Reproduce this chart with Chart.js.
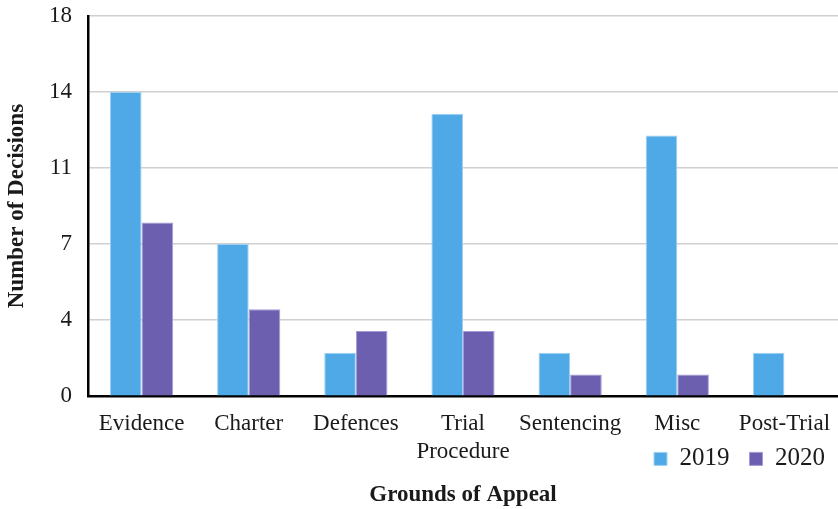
<!DOCTYPE html>
<html>
<head>
<meta charset="utf-8">
<script src="https://cdn.jsdelivr.net/npm/chart.js@4"></script>
<style>
  html, body { margin: 0; padding: 0; background: #fff; }
  #wrap { width: 838px; height: 509px; }
</style>
</head>
<body>
<div id="wrap"><canvas id="grafico"></canvas></div>
<script>
const motivos = ['Evidence', 'Charter', 'Defences', ['Trial', 'Procedure'], 'Sentencing', 'Misc', 'Post-Trial'];
const decisoes2019 = [14, 7, 2, 13, 2, 12, 2];
const decisoes2020 = [8, 4, 3, 3, 1, 1, 0];
const rotulosEixoY = ['0', '4', '7', '11', '14', '18'];

const fonte = 'Liberation Serif, Times New Roman, serif';
const corTexto = '#1a1a1a';
const recorteX = 45; // quanto a legenda sobe por cima da segunda linha dos rótulos

// ajustes finos depois do layout
const ajustesLayout = {
    id: 'ajustesLayout',
    afterLayout(chart) {
        // rótulos do eixo x podem desenhar abaixo da altura reduzida da escala
        chart.scales.x.bottom += recorteX;
        // título do eixo x centrado na área do gráfico
        chart.titleBlock.left = chart.chartArea.left;
        // legenda um pouco mais à direita
        chart.legend.right += 7;
    }
};

new Chart(document.getElementById('grafico'), {
    type: 'bar',
    data: {
        labels: motivos,
        datasets: [{
            label: '2019',
            data: decisoes2019,
            backgroundColor: '#4EA9E6',
            borderColor: '#9fd0f2',
            borderWidth: 1
        },
        {
            label: '2020',
            data: decisoes2020,
            backgroundColor: '#6C5FB0',
            borderColor: '#a49bd6',
            borderWidth: 1
        }]
    },
    options: {
        responsive: true,
        maintainAspectRatio: false,
        animation: false,
        layout: { padding: { top: 16, right: 0, bottom: 0, left: 0 } },
        datasets: {
            bar: { categoryPercentage: 0.59, barPercentage: 1.0 }
        },
        scales: {
            x: {
                grid: { display: false },
                border: { display: true, color: '#000', width: 2.5 },
                ticks: {
                    color: corTexto,
                    font: { family: fonte, size: 23 },
                    padding: 6,
                    maxRotation: 0,
                    autoSkip: false
                },
                afterFit: s => {
                    s.height -= recorteX;
                    s.paddingLeft = 0;
                    s.paddingRight = 0;
                }
            },
            y: {
                min: 0,
                max: 17.5,
                grid: { color: '#d0d0d0', lineWidth: 1.5, drawTicks: false },
                border: { display: true, color: '#000', width: 2.5 },
                ticks: {
                    stepSize: 3.5,
                    color: corTexto,
                    font: { family: fonte, size: 23 },
                    padding: 16,
                    callback: (v, i) => rotulosEixoY[i]
                },
                title: {
                    display: true,
                    text: 'Number of Decisions',
                    color: corTexto,
                    font: { family: fonte, size: 23, weight: 'bold' },
                    padding: { top: 3, bottom: 4 }
                },
                afterFit: s => {
                    s.width = 88;
                    s.paddingTop = 0;
                    s.paddingBottom = 0;
                }
            }
        },
        plugins: {
            legend: {
                position: 'bottom',
                align: 'end',
                labels: {
                    color: corTexto,
                    font: { family: fonte, size: 25 },
                    boxWidth: 13,
                    boxHeight: 13,
                    padding: 20
                }
            },
            title: {
                display: true,
                position: 'bottom',
                text: 'Grounds of Appeal',
                color: corTexto,
                font: { family: fonte, size: 23, weight: 'bold' },
                padding: { top: 0, bottom: 0 }
            },
            tooltip: { enabled: false }
        }
    },
    plugins: [ajustesLayout]
});
</script>
</body>
</html>
